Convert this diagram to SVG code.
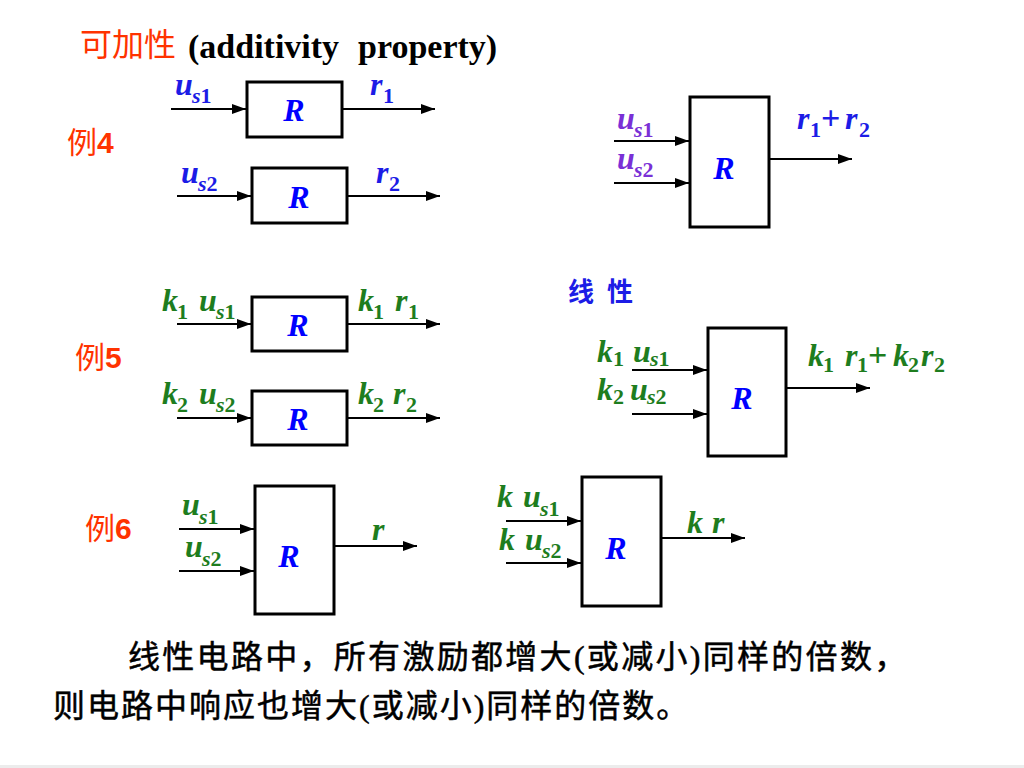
<svg xmlns="http://www.w3.org/2000/svg" width="1024" height="768" viewBox="0 0 1024 768">
<defs>
<style>
.box{fill:#fff;stroke:#000;stroke-width:3}
.wire{stroke:#000;stroke-width:2.2;fill:none;marker-end:url(#ah)}
.m{font-family:"Liberation Serif",serif;font-weight:bold;font-style:italic;font-size:32px}
.s{font-size:22px}
.n{font-style:normal}
.p{font-style:normal;font-size:34px}
.R{font-family:"Liberation Serif",serif;font-weight:bold;font-style:italic;font-size:32px;text-anchor:middle;fill:#0000ff}
.blue{fill:#1c1ce6}
.green{fill:#1e7d1e}
.purple{fill:#7a30d6}
.red{fill:#ff3300}
.ex{font-family:"Noto Sans CJK SC",sans-serif;font-size:30px;fill:#ff3300}
.exn{font-family:"Liberation Sans",sans-serif;font-weight:bold}
.cn{font-family:"Liberation Serif","Noto Sans CJK SC",serif;font-size:32px;fill:#000;stroke:#000;stroke-width:0.5}
</style>
<marker id="ah" markerWidth="14" markerHeight="10" refX="14" refY="5" orient="auto" markerUnits="userSpaceOnUse">
<path d="M0,0 L14,5 L0,10 Z" fill="#000"/>
</marker>
</defs>
<rect width="1024" height="768" fill="#fff"/>
<rect x="0" y="765" width="1024" height="3" fill="#ececec"/>

<g id="title">
<text x="80" y="56" font-family="Noto Sans CJK SC, sans-serif" font-size="32" class="red">可加性</text>
<text x="188" y="58" font-family="Liberation Serif, serif" font-weight="bold" font-size="34" fill="#000">(additivity<tspan x="358">property)</tspan></text>
</g>

<g id="connectors">
<line class="wire" x1="171" y1="109" x2="246" y2="109"/>
<line class="wire" x1="343" y1="109" x2="435" y2="109"/>
<line class="wire" x1="177" y1="196" x2="251" y2="196"/>
<line class="wire" x1="348" y1="196" x2="440" y2="196"/>
<line class="wire" x1="614" y1="141" x2="689" y2="141"/>
<line class="wire" x1="614" y1="183" x2="689" y2="183"/>
<line class="wire" x1="770" y1="159" x2="852" y2="159"/>
<line class="wire" x1="177" y1="324" x2="251" y2="324"/>
<line class="wire" x1="348" y1="324" x2="440" y2="324"/>
<line class="wire" x1="177" y1="418" x2="251" y2="418"/>
<line class="wire" x1="348" y1="418" x2="440" y2="418"/>
<line class="wire" x1="632" y1="370" x2="707" y2="370"/>
<line class="wire" x1="632" y1="414" x2="707" y2="414"/>
<line class="wire" x1="787" y1="388" x2="870" y2="388"/>
<line class="wire" x1="179" y1="529" x2="254" y2="529"/>
<line class="wire" x1="179" y1="571" x2="254" y2="571"/>
<line class="wire" x1="335" y1="546" x2="417" y2="546"/>
<line class="wire" x1="506" y1="521" x2="581" y2="521"/>
<line class="wire" x1="506" y1="563" x2="581" y2="563"/>
<line class="wire" x1="662" y1="538" x2="745" y2="538"/>
</g>

<g id="ex4-label"><text x="67" y="153" class="ex">例<tspan class="exn">4</tspan></text></g>
<g id="ex5-label"><text x="75" y="368" class="ex">例<tspan class="exn">5</tspan></text></g>
<g id="ex6-label"><text x="85" y="539" class="ex">例<tspan class="exn">6</tspan></text></g>

<g id="ex4-box1">
<rect class="box" x="247" y="82" width="95" height="55"/>
<text x="294" y="121" class="R">R</text>
</g>
<g id="ex4-box2">
<rect class="box" x="252" y="168" width="95" height="55"/>
<text x="299" y="208" class="R">R</text>
</g>
<g id="ex4-sum">
<rect class="box" x="690" y="97" width="79" height="130"/>
<text x="724" y="179" class="R">R</text>
</g>
<g id="ex5-box1">
<rect class="box" x="252" y="297" width="95" height="54"/>
<text x="298" y="336" class="R">R</text>
</g>
<g id="ex5-box2">
<rect class="box" x="252" y="391" width="95" height="54"/>
<text x="298" y="430" class="R">R</text>
</g>
<g id="linear-box">
<rect class="box" x="708" y="328" width="78" height="128"/>
<text x="742" y="409" class="R">R</text>
</g>
<g id="ex6-box1">
<rect class="box" x="255" y="486" width="79" height="128"/>
<text x="289" y="567" class="R">R</text>
</g>
<g id="ex6-box2">
<rect class="box" x="582" y="477" width="79" height="129"/>
<text x="616" y="559" class="R">R</text>
</g>

<g id="labels">
<!-- example 4 -->
<text class="m blue" x="175" y="95">u<tspan class="s" x="192" y="103">s</tspan><tspan class="s n" y="103">1</tspan></text>
<text class="m blue" x="370" y="95">r<tspan class="s n" x="383" y="103">1</tspan></text>
<text class="m blue" x="181" y="183">u<tspan class="s" x="198" y="191">s</tspan><tspan class="s n" y="191">2</tspan></text>
<text class="m blue" x="376" y="183">r<tspan class="s n" x="389" y="191">2</tspan></text>
<text class="m purple" x="617" y="129">u<tspan class="s" x="634" y="137">s</tspan><tspan class="s n" y="137">1</tspan></text>
<text class="m purple" x="617" y="169">u<tspan class="s" x="634" y="177">s</tspan><tspan class="s n" y="177">2</tspan></text>
<text class="m blue" x="797" y="129">r<tspan class="s n" x="810" y="137">1</tspan><tspan class="p" x="821" y="129">+</tspan><tspan x="845" y="129">r</tspan><tspan class="s n" x="859" y="137">2</tspan></text>
<!-- example 5 -->
<text class="m green" x="162" y="311">k<tspan class="s n" x="177" y="319">1</tspan><tspan x="199" y="311">u</tspan><tspan class="s" x="216" y="319">s</tspan><tspan class="s n" y="319">1</tspan></text>
<text class="m green" x="358" y="311">k<tspan class="s n" x="373" y="319">1</tspan><tspan x="395" y="311">r</tspan><tspan class="s n" x="408" y="319">1</tspan></text>
<text class="m green" x="162" y="404">k<tspan class="s n" x="177" y="412">2</tspan><tspan x="199" y="404">u</tspan><tspan class="s" x="216" y="412">s</tspan><tspan class="s n" y="412">2</tspan></text>
<text class="m green" x="358" y="404">k<tspan class="s n" x="373" y="412">2</tspan><tspan x="393" y="404">r</tspan><tspan class="s n" x="406" y="412">2</tspan></text>
<!-- linear -->
<text x="568" y="301" font-family="Noto Sans CJK SC, sans-serif" font-weight="bold" font-size="26" letter-spacing="13" class="blue">线性</text>
<text class="m green" x="597" y="362">k<tspan class="s n" x="613" y="366">1</tspan><tspan x="633" y="362">u</tspan><tspan class="s" x="650" y="366">s</tspan><tspan class="s n" y="366">1</tspan></text>
<text class="m green" x="597" y="400">k<tspan class="s n" x="613" y="404">2</tspan><tspan x="630" y="400">u</tspan><tspan class="s" x="647" y="404">s</tspan><tspan class="s n" y="404">2</tspan></text>
<text class="m green" x="808" y="366">k<tspan class="s n" x="823" y="372">1</tspan><tspan x="845" y="366">r</tspan><tspan class="s n" x="857" y="372">1</tspan><tspan class="p" x="868" y="366">+</tspan><tspan x="893" y="366">k</tspan><tspan class="s n" x="908" y="372">2</tspan><tspan x="921" y="366">r</tspan><tspan class="s n" x="934" y="372">2</tspan></text>
<!-- example 6 -->
<text class="m green" x="182" y="515">u<tspan class="s" x="199" y="524">s</tspan><tspan class="s n" y="524">1</tspan></text>
<text class="m green" x="185" y="557">u<tspan class="s" x="202" y="566">s</tspan><tspan class="s n" y="566">2</tspan></text>
<text class="m green" x="372" y="540">r</text>
<text class="m green" x="497" y="507">k<tspan x="523">u</tspan><tspan class="s" x="540" y="516">s</tspan><tspan class="s n" y="516">1</tspan></text>
<text class="m green" x="499" y="550">k<tspan x="525">u</tspan><tspan class="s" x="542" y="558">s</tspan><tspan class="s n" y="558">2</tspan></text>
<text class="m green" x="687" y="533">k<tspan x="712">r</tspan></text>
</g>

<g id="conclusion">
<text x="128" y="668" class="cn" letter-spacing="2.3">线性电路中，所有激励都增大(或减小)同样的倍数，</text>
<text x="53" y="717" class="cn" letter-spacing="2">则电路中响应也增大(或减小)同样的倍数。</text>
</g>
</svg>
